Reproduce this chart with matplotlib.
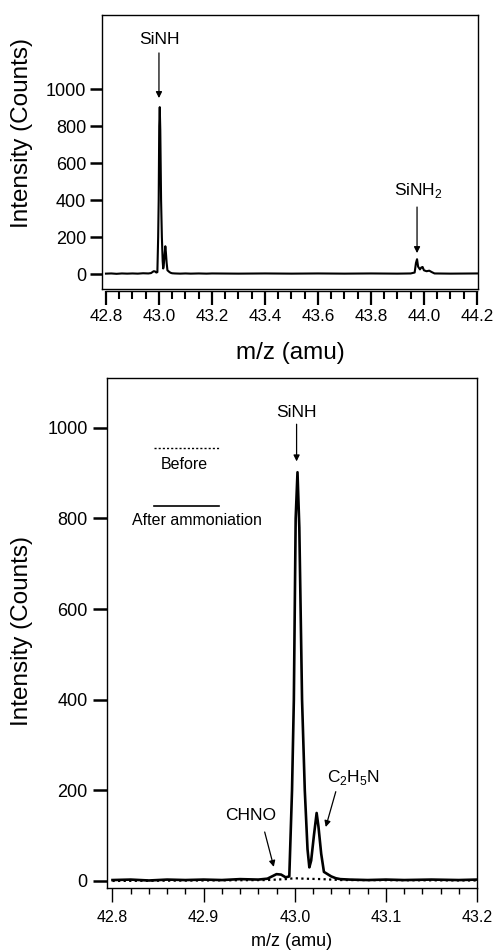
import matplotlib
matplotlib.use('Agg')
import matplotlib.pyplot as plt
from matplotlib.ticker import MultipleLocator

plt.rcParams['font.family'] = ['Liberation Sans', 'DejaVu Sans']

# spectrum after ammoniation (m/z, counts)
mz_after = [42.80, 42.82, 42.84, 42.86, 42.88, 42.90, 42.92, 42.94, 42.96,
            42.970, 42.975, 42.980, 42.985, 42.990, 42.994, 42.997, 42.999,
            43.001, 43.003, 43.005, 43.008, 43.011, 43.014, 43.016, 43.018,
            43.021, 43.024, 43.026, 43.029, 43.032, 43.036, 43.040, 43.045,
            43.05, 43.06, 43.08, 43.10, 43.12, 43.15, 43.18, 43.20,
            43.30, 43.40, 43.50, 43.60, 43.70, 43.80, 43.90, 43.95,
            43.965, 43.970, 43.974, 43.978, 43.985, 43.990, 43.995, 44.000,
            44.010, 44.020, 44.030, 44.040, 44.10, 44.20]
counts_after = [2, 3, 1, 3, 2, 3, 2, 4, 3,
                5, 10, 15, 14, 8, 10, 200, 400,
                800, 902, 780, 400, 200, 70, 30, 45,
                100, 150, 120, 60, 20, 15, 10, 6,
                4, 3, 2, 3, 2, 3, 2, 3,
                2, 3, 2, 3, 2, 3, 2, 3,
                8, 60, 80, 40, 25, 35, 38, 20,
                15, 18, 10, 3, 2, 3]

# spectrum before ammoniation (dotted)
mz_before = [42.80, 42.90, 42.97, 42.99, 43.00, 43.01, 43.03, 43.05, 43.20]
counts_before = [0, 1, 2, 4, 6, 5, 4, 2, 1]

yticks = [0, 200, 400, 600, 800, 1000]

fig = plt.figure(figsize=(4.98, 9.5), dpi=100)

# ---- top panel: wide range ----
ax1 = fig.add_axes([0.2048, 0.6958, 0.755, 0.2884])
ax1.plot(mz_after, counts_after, color='k', lw=1.5)
ax1.set_xlim(42.785, 44.204)
ax1.set_ylim(-81, 1400)
ax1.set_yticks(yticks)
ax1.xaxis.set_major_locator(MultipleLocator(0.2))
ax1.xaxis.set_minor_locator(MultipleLocator(0.05))
ax1.xaxis.set_major_formatter(matplotlib.ticker.FormatStrFormatter('%.1f'))
for s in ['left', 'top', 'right']:
    ax1.spines[s].set_linewidth(1.0)
ax1.spines['bottom'].set_position(('outward', 1.5))
ax1.spines['bottom'].set_bounds(42.8, 44.2)
ax1.spines['bottom'].set_linewidth(1.0)
ax1.plot([0, 1], [0, 0], transform=ax1.transAxes, color='k', lw=1.0, clip_on=False)
ax1.tick_params(axis='y', direction='out', length=8.5, width=1.8, pad=3, labelsize=13)
ax1.tick_params(axis='x', which='major', direction='out', length=10, width=1.6, pad=3, labelsize=12.3)
ax1.tick_params(axis='x', which='minor', direction='out', length=5.8, width=1.5)
ax1.set_ylabel('Intensity (Counts)', fontsize=17.5)
ax1.yaxis.set_label_coords(-0.183, 0.57)
ax1.set_xlabel('m/z (amu)', fontsize=17.5)
ax1.xaxis.set_label_coords(0.5, -0.193)

arrow = dict(arrowstyle='-|>', color='k', lw=0.9, mutation_scale=9, shrinkA=0, shrinkB=0)
ax1.annotate('', xy=(43.0, 951), xytext=(43.0, 1195), arrowprops=arrow)
ax1.text(43.0, 1270, 'SiNH', ha='center', va='center', fontsize=12.5)
ax1.annotate('', xy=(43.974, 113), xytext=(43.974, 362), arrowprops=arrow)
ax1.text(43.98, 449, 'SiNH$_{\\mathregular{2}}$', ha='center', va='center', fontsize=12.5)

# ---- bottom panel: zoom on 43 amu ----
ax2 = fig.add_axes([0.2149, 0.0653, 0.743, 0.5368])
ax2.plot(mz_before, counts_before, color='k', lw=1.6, ls=(0, (1, 1.5)))
ax2.plot(mz_after, counts_after, color='k', lw=1.9)
ax2.set_xlim(42.794, 43.2)
ax2.set_ylim(-15.5, 1110)
ax2.set_yticks(yticks)
ax2.xaxis.set_major_locator(MultipleLocator(0.1))
ax2.xaxis.set_minor_locator(MultipleLocator(0.02))
ax2.xaxis.set_major_formatter(matplotlib.ticker.FormatStrFormatter('%.1f'))
for s in ax2.spines.values():
    s.set_linewidth(1.0)
ax2.tick_params(axis='y', direction='out', length=10, width=1.8, pad=4, labelsize=13)
ax2.tick_params(axis='x', which='major', direction='out', length=10, width=1.0, pad=6, labelsize=11.5)
ax2.tick_params(axis='x', which='minor', direction='out', length=4.3, width=1.0)
ax2.set_ylabel('Intensity (Counts)', fontsize=17.5)
ax2.yaxis.set_label_coords(-0.2, 0.504)
ax2.set_xlabel('m/z (amu)', fontsize=13)
ax2.xaxis.set_label_coords(0.5, -0.088)

# legend drawn inside the plot
ax2.plot([42.846, 42.917], [955, 955], color='k', lw=1.0, ls=(0, (1.5, 1.5)))
ax2.text(42.879, 919, 'Before', ha='center', va='center', fontsize=11.5)
ax2.plot([42.846, 42.917], [827, 827], color='k', lw=1.2)
ax2.text(42.893, 796, 'After ammoniation', ha='center', va='center', fontsize=11.5)

ax2.annotate('', xy=(43.002, 926), xytext=(43.002, 1008), arrowprops=arrow)
ax2.text(43.002, 1034, 'SiNH', ha='center', va='center', fontsize=12.5)
ax2.annotate('', xy=(42.977, 31), xytext=(42.967, 108), arrowprops=arrow)
ax2.text(42.952, 144, 'CHNO', ha='center', va='center', fontsize=12.5)
ax2.annotate('', xy=(43.034, 119), xytext=(43.045, 197), arrowprops=arrow)
ax2.text(43.065, 228, 'C$_{\\mathregular{2}}$H$_{\\mathregular{5}}$N', ha='center', va='center', fontsize=12.5)

fig.savefig('out.png', dpi=100)
